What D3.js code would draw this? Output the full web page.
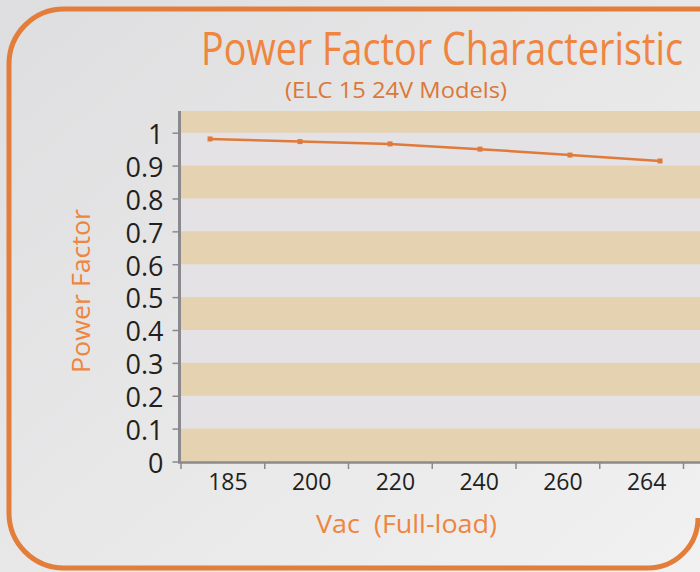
<!DOCTYPE html>
<html>
<head>
<meta charset="utf-8">
<script src="https://cdn.jsdelivr.net/npm/d3@7"></script>
<style>
  html, body { margin: 0; padding: 0; background: #e6e6e7; }
  svg { display: block; font-family: "Open Sans", "DejaVu Sans", sans-serif; }
</style>
</head>
<body>
<div id="chart"></div>
<script>
// data
const categories = ["185", "200", "220", "240", "260", "264"];
const powerFactor = [0.981, 0.973, 0.966, 0.950, 0.932, 0.914];
const yTicks = [0, 0.1, 0.2, 0.3, 0.4, 0.5, 0.6, 0.7, 0.8, 0.9, 1];
const stripes = [[0, 0.1], [0.2, 0.3], [0.4, 0.5], [0.6, 0.7], [0.8, 0.9], [1, 1.066]];

const W = 700, H = 572;
const orange = "#ef853f", darkOrange = "#dc7738", lineCol = "#e07a3b";

const svg = d3.select("#chart").append("svg")
  .attr("width", W).attr("height", H);

// background gradient
const defs = svg.append("defs");
const grad = defs.append("linearGradient").attr("id", "bg")
  .attr("x1", "0").attr("y1", "0").attr("x2", "1").attr("y2", "1");
grad.append("stop").attr("offset", "0%").attr("stop-color", "#dedee0");
grad.append("stop").attr("offset", "100%").attr("stop-color", "#f1f1f1");
svg.append("rect").attr("width", W).attr("height", H).attr("fill", "url(#bg)");

// scales: band for the axis slots, point for where the markers sit
const x = d3.scaleBand().domain(categories).range([181, 683.5]);
const xp = d3.scalePoint().domain(categories).range([210, 660]);
const y = d3.scaleLinear().domain([0, 1.066]).range([461.5, 111]);

// plot area
svg.append("rect")
  .attr("x", 181).attr("y", y(1.066))
  .attr("width", W - 181).attr("height", y(0) - y(1.066))
  .attr("fill", "#e4e2e4");

svg.append("g").selectAll("rect")
  .data(stripes)
  .enter().append("rect")
    .attr("x", 181)
    .attr("y", d => y(d[1]))
    .attr("width", W - 181)
    .attr("height", d => y(d[0]) - y(d[1]))
    .attr("fill", "#e4d2b1");

// y axis
const yAxis = svg.append("g")
  .attr("transform", "translate(179.5,0)")
  .call(d3.axisLeft(y).tickValues(yTicks).tickFormat(d3.format("~g")).tickSize(7).tickPadding(9));
yAxis.select(".domain").remove();
yAxis.selectAll(".tick line").attr("stroke", "#8a8a8e").attr("stroke-width", 1.5);
yAxis.selectAll(".tick text")
  .attr("font-size", 27).attr("fill", "#231f20").attr("font-family", "Open Sans")
  .attr("dy", "0.4em");
svg.append("line")
  .attr("x1", 179.5).attr("x2", 179.5).attr("y1", 111).attr("y2", 463)
  .attr("stroke", "#8a8a8e").attr("stroke-width", 3);

// x axis
svg.append("line")
  .attr("x1", 178).attr("x2", W).attr("y1", 462.5).attr("y2", 462.5)
  .attr("stroke", "#8a8a8e").attr("stroke-width", 2.5);

const boundaries = categories.map(c => x(c)).concat([x.range()[1]]);
svg.append("g").selectAll("line")
  .data(boundaries)
  .enter().append("line")
    .attr("x1", d => d).attr("x2", d => d)
    .attr("y1", 463).attr("y2", 469)
    .attr("stroke", "#8a8a8e").attr("stroke-width", 1.5);

svg.append("g").selectAll("text")
  .data(categories)
  .enter().append("text")
    .attr("x", d => x(d) + x.bandwidth() / 2 + 5)
    .attr("y", 490)
    .attr("text-anchor", "middle")
    .attr("font-size", 23)
    .attr("fill", "#231f20")
    .text(d => d);

// line and markers
const line = d3.line()
  .x((d, i) => xp(categories[i]))
  .y(d => y(d));

svg.append("path")
  .datum(powerFactor)
  .attr("d", line)
  .attr("fill", "none")
  .attr("stroke", lineCol)
  .attr("stroke-width", 2.5);

svg.append("g").selectAll("rect")
  .data(powerFactor)
  .enter().append("rect")
    .attr("x", (d, i) => xp(categories[i]) - 2.5)
    .attr("y", d => y(d) - 2.5)
    .attr("width", 5).attr("height", 5)
    .attr("fill", lineCol);

// titles
svg.append("text")
  .attr("x", 201).attr("y", 65)
  .attr("font-size", 45)
  .attr("textLength", 482).attr("lengthAdjust", "spacingAndGlyphs")
  .attr("fill", orange)
  .text("Power Factor Characteristic");

svg.append("text")
  .attr("x", 285).attr("y", 98)
  .attr("font-size", 21)
  .attr("textLength", 222).attr("lengthAdjust", "spacingAndGlyphs")
  .attr("fill", darkOrange)
  .text("(ELC 15 24V Models)");

svg.append("text")
  .attr("transform", "translate(90,373) rotate(-90)")
  .attr("font-size", 26)
  .attr("textLength", 164).attr("lengthAdjust", "spacingAndGlyphs")
  .attr("fill", orange)
  .text("Power Factor");

svg.append("text")
  .attr("x", 316).attr("y", 533)
  .attr("font-size", 26)
  .attr("textLength", 181).attr("lengthAdjust", "spacingAndGlyphs")
  .attr("fill", orange)
  .attr("xml:space", "preserve")
  .style("white-space", "pre")
  .text("Vac  (Full-load)");

// rounded frame
svg.append("path")
  .attr("d", "M700,9 H64 A55,55 0 0 0 9,64 V513 A55,55 0 0 0 64,568 H648 A50,50 0 0 0 698,518")
  .attr("fill", "none")
  .attr("stroke", "#e27d3a")
  .attr("stroke-width", 5);
</script>
</body>
</html>
